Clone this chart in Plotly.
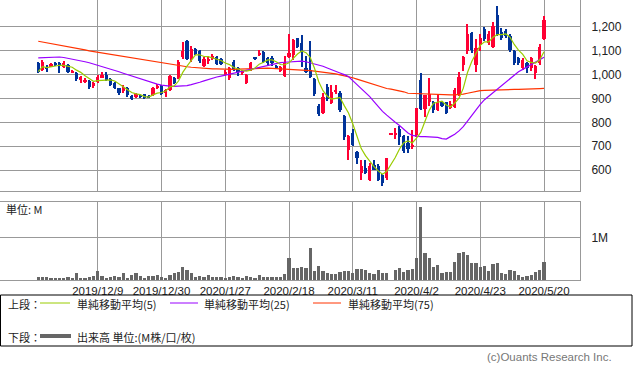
import pandas as pd
import plotly.graph_objects as go

# ---------------- data ----------------
holidays = ["2019-12-31", "2020-01-01", "2020-01-02", "2020-01-03", "2020-01-13",
            "2020-02-11", "2020-02-24", "2020-03-20", "2020-04-29", "2020-05-04",
            "2020-05-05", "2020-05-06"]
_days = [d for d in pd.bdate_range("2019-11-19", "2020-05-20")
         if d.strftime("%Y-%m-%d") not in holidays]
dates = [f"{d.year}/{d.month}/{d.day}" for d in _days]

tick_dates = ["2019/12/9", "2019/12/30", "2020/1/27", "2020/2/18",
              "2020/3/11", "2020/4/2", "2020/4/23", "2020/5/20"]

open_ = [1048, 1020, 1033, 1036, 1050, 1048, 1033, 1040, 1011, 1008,
         978, 971, 975, 952, 970, 987, 998, 980, 965, 943,
         930, 943, 912, 907, 915, 918, 910, 915, 943, 952,
         922, 935, 985, 985, 1073, 1141, 1064, 1106, 1100, 1036,
         1058, 1067, 1073, 1064, 999, 985, 1054, 1027, 1008, 966,
         1020, 1070, 1082, 1096, 1070, 1070, 1035, 1017, 994, 1075,
         1082, 1152, 1131, 1027, 1020, 980, 868, 838, 947, 880,
         929, 924, 827, 684, 754, 677, 589, 608, 558, 621,
         617, 579, 565, 750, 747, 771, 741, 713, 695, 747,
         978, 855, 887, 887, 851, 887, 884, 859, 866, 915,
         1041, 1101, 1175, 1041, 1124, 1190, 1131, 1117, 1250, 1180,
         1185, 1162, 1100, 1070, 1027, 1050, 1027, 1008, 1048, 1148]
high = [1054, 1062, 1040, 1050, 1055, 1052, 1058, 1045, 1020, 1010,
        995, 985, 978, 970, 1000, 1010, 1010, 985, 968, 946,
        955, 948, 915, 922, 918, 920, 915, 950, 960, 955,
        940, 1000, 990, 1060, 1138, 1145, 1120, 1110, 1105, 1075,
        1080, 1085, 1078, 1068, 1020, 1032, 1060, 1030, 1020, 1002,
        1055, 1075, 1105, 1100, 1075, 1080, 1040, 1038, 1080, 1170,
        1150, 1155, 1166, 1080, 1140, 985, 875, 925, 960, 957,
        955, 930, 830, 745, 770, 680, 642, 642, 630, 640,
        625, 582, 650, 750, 776, 784, 745, 741, 766, 860,
        1008, 912, 985, 890, 920, 890, 887, 890, 945, 1010,
        1080, 1213, 1178, 1150, 1170, 1200, 1185, 1220, 1288, 1195,
        1190, 1170, 1105, 1075, 1070, 1055, 1075, 1040, 1130, 1245]
low = [1006, 1015, 1010, 1030, 1035, 1008, 1028, 1005, 1005, 975,
       963, 965, 940, 945, 965, 985, 972, 952, 940, 915,
       925, 908, 895, 903, 900, 897, 900, 912, 940, 915,
       908, 930, 960, 980, 1065, 1060, 1055, 1082, 1050, 1030,
       1045, 1060, 1040, 1040, 995, 978, 1015, 995, 1000, 962,
       1015, 1062, 1078, 1050, 1040, 1035, 1022, 1012, 990, 1070,
       1060, 1110, 1033, 1005, 985, 912, 825, 835, 890, 875,
       920, 845, 725, 642, 700, 625, 558, 585, 555, 598,
       555, 533, 560, 750, 729, 706, 672, 671, 690, 740,
       850, 824, 870, 840, 848, 865, 835, 855, 862, 912,
       1015, 1085, 1090, 1010, 1100, 1140, 1125, 1110, 1160, 1145,
       1155, 1095, 1040, 1040, 1020, 1008, 1015, 983, 1040, 1145]
close = [1013, 1054, 1022, 1043, 1042, 1036, 1050, 1011, 1017, 980,
         990, 978, 947, 966, 992, 998, 977, 957, 943, 922,
         946, 915, 898, 917, 905, 904, 905, 945, 952, 919,
         935, 994, 964, 1054, 1100, 1066, 1106, 1087, 1057, 1064,
         1062, 1080, 1045, 1045, 1013, 1027, 1020, 1013, 1013, 999,
         1048, 1068, 1092, 1054, 1048, 1048, 1030, 1033, 1048, 1089,
         1145, 1117, 1096, 1013, 989, 919, 835, 908, 897, 929,
         935, 852, 737, 741, 705, 649, 617, 589, 617, 600,
         558, 547, 650, 750, 756, 737, 681, 688, 705, 860,
         855, 915, 919, 852, 887, 869, 838, 875, 935, 989,
         1075, 1171, 1104, 1113, 1152, 1148, 1169, 1204, 1166, 1152,
         1162, 1103, 1050, 1048, 1062, 1027, 1069, 1036, 1117, 1229]

ma25 = [1070, 1071, 1072, 1073, 1074, 1074, 1072, 1069, 1066, 1062,
        1058, 1054, 1050, 1045, 1040, 1035, 1030, 1024, 1018, 1012,
        1006, 1000, 994, 988, 982, 976, 970, 965, 960, 956,
        953, 952, 951, 951, 952, 954, 958, 962, 968, 974,
        980, 985, 990, 994, 998, 1003, 1007, 1011, 1015, 1019,
        1022, 1026, 1030, 1035, 1040, 1045, 1048, 1050, 1052, 1053,
        1055, 1056, 1057, 1054, 1050, 1045, 1040, 1035, 1028, 1020,
        1014, 1007, 1000, 992, 975, 958, 942, 927, 908, 887,
        866, 846, 830, 814, 800, 787, 772, 755, 745, 742,
        740, 740, 740, 739, 737, 732, 730, 740, 750, 764,
        782, 805, 830, 855, 875, 895, 910, 925, 940, 955,
        970, 985, 1000, 1012, 1022, 1032, 1042, 1052, 1062, 1073]
ma75 = [1140, 1137, 1134, 1130, 1127, 1124, 1120, 1117, 1114, 1110,
        1107, 1104, 1100, 1097, 1094, 1091, 1088, 1086, 1083, 1080,
        1078, 1075, 1072, 1068, 1065, 1062, 1058, 1055, 1052, 1048,
        1046, 1043, 1040, 1038, 1035, 1033, 1031, 1029, 1027, 1026,
        1025, 1024, 1024, 1023, 1023, 1022, 1022, 1023, 1024, 1025,
        1026, 1026, 1027, 1027, 1027, 1026, 1025, 1024, 1023, 1022,
        1022, 1022, 1022, 1020, 1017, 1015, 1013, 1011, 1008, 1006,
        1003, 999, 996, 992, 987, 981, 975, 970, 964, 958,
        951, 945, 942, 939, 936, 933, 928, 922, 921, 921,
        920, 920, 919, 919, 918, 917, 916, 915, 915, 916,
        918, 922, 926, 930, 933, 934, 935, 936, 936, 937,
        937, 937, 938, 938, 938, 939, 939, 940, 941, 942]

volume_m = [0.06, 0.06, 0.06, 0.05, 0.03, 0.055, 0.055, 0.06, 0.03, 0.165,
            0.05, 0.03, 0.06, 0.09, 0.21, 0.09, 0.05, 0.07, 0.09, 0.06,
            0.16, 0.055, 0.12, 0.16, 0.09, 0.055, 0.09, 0.10, 0.11, 0.06,
            0.055, 0.11, 0.16, 0.20, 0.30, 0.24, 0.165, 0.08, 0.09, 0.07,
            0.12, 0.06, 0.06, 0.07, 0.055, 0.07, 0.09, 0.06, 0.055, 0.09,
            0.06, 0.055, 0.12, 0.07, 0.06, 0.07, 0.06, 0.06, 0.14, 0.52,
            0.28, 0.28, 0.31, 0.28, 0.75, 0.21, 0.33, 0.21, 0.16, 0.14,
            0.14, 0.19, 0.21, 0.21, 0.16, 0.26, 0.25, 0.24, 0.16, 0.14,
            0.23, 0.16, 0.16, 0.0, 0.24, 0.28, 0.18, 0.24, 0.26, 0.52,
            1.73, 0.65, 0.52, 0.31, 0.35, 0.16, 0.19, 0.19, 0.43, 0.65,
            0.66, 0.59, 0.40, 0.40, 0.31, 0.33, 0.21, 0.39, 0.40, 0.17,
            0.14, 0.24, 0.22, 0.13, 0.08, 0.09, 0.12, 0.19, 0.24, 0.43]

price_ticks = [600, 700, 800, 900, 1000, 1100, 1200]
price_labels = ["600", "700", "800", "900", "1,000", "1,100", "1,200"]

# ---------------- styling ----------------
W, H = 633, 375
RED, BLUE = "#ff0033", "#003399"
C5, C25, C75 = "#99cc00", "#9900ff", "#ff3300"
GRID = "#999999"
VOLC = "#666666"
JP = "Noto Sans CJK JP"
NARROW = "Liberation Sans Narrow, Arial Narrow, sans-serif"


def px(x):
    return x / W


def py(y):
    return 1 - y / H


ma5 = pd.Series(close).rolling(5, min_periods=1).mean().tolist()
colors = [RED if c >= o else BLUE for o, c in zip(open_, close)]
body_base = [min(o, c) for o, c in zip(open_, close)]
body_h = [max(abs(c - o), 3) for o, c in zip(open_, close)]
wick_h = [max(h - l, 3) for h, l in zip(high, low)]

fig = go.Figure()
fig.add_trace(go.Bar(x=dates, y=wick_h, base=low, width=0.24,
                     marker=dict(color=colors, line=dict(width=0)),
                     xaxis="x", yaxis="y", showlegend=False))
fig.add_trace(go.Bar(x=dates, y=body_h, base=body_base, width=0.72,
                     marker=dict(color=colors, line=dict(width=0)),
                     xaxis="x", yaxis="y", showlegend=False))
fig.add_trace(go.Scatter(x=dates, y=ma75, mode="lines", line=dict(color=C75, width=1.2),
                         xaxis="x", yaxis="y", showlegend=False))
fig.add_trace(go.Scatter(x=dates, y=ma25, mode="lines", line=dict(color=C25, width=1.2),
                         xaxis="x", yaxis="y", showlegend=False))
fig.add_trace(go.Scatter(x=dates, y=ma5, mode="lines", line=dict(color=C5, width=1.2),
                         xaxis="x", yaxis="y", showlegend=False))
fig.add_trace(go.Bar(x=dates, y=volume_m, width=0.72,
                     marker=dict(color=VOLC, line=dict(width=0)),
                     xaxis="x2", yaxis="y2", showlegend=False))

xrange = [-9.0, 127.47]
xcommon = dict(type="category", categoryorder="array", categoryarray=dates,
               range=xrange, domain=[0, px(580)], tickmode="array", tickvals=tick_dates,
               showgrid=True, gridcolor=GRID, gridwidth=1, showline=True, mirror=True,
               linecolor=GRID, linewidth=1, ticks="", zeroline=False, fixedrange=True)

fig.update_layout(
    width=W, height=H, margin=dict(l=0, r=0, t=0, b=0),
    paper_bgcolor="white", plot_bgcolor="white", barmode="overlay", bargap=0,
    hovermode=False,
    xaxis=dict(**xcommon, anchor="y", showticklabels=False),
    xaxis2=dict(**xcommon, anchor="y2", matches="x", showticklabels=True,
                ticklabelstandoff=0,
                tickfont=dict(family=NARROW, size=11.5, color="#222222")),
    yaxis=dict(domain=[py(191), 1], range=[512, 1313], side="right",
               tickmode="array", tickvals=price_ticks, ticktext=price_labels,
               showgrid=True, gridcolor=GRID, gridwidth=1, zeroline=False,
               showline=True, mirror=True, linecolor=GRID, ticks="",
               ticklabelstandoff=8,
               tickfont=dict(family="Liberation Sans, Arial, sans-serif", size=12, color="#222222"),
               anchor="x", fixedrange=True),
    yaxis2=dict(domain=[py(280), py(202)], range=[0, 1.844], side="right",
                tickmode="array", tickvals=[1], ticktext=["1M"],
                showgrid=True, gridcolor=GRID, gridwidth=1, zeroline=False,
                showline=True, mirror=True, linecolor=GRID, ticks="",
                ticklabelstandoff=8,
                tickfont=dict(family=NARROW, size=12, color="#222222"),
                anchor="x2", fixedrange=True),
)

ann = []


def text(x, y, s, size=11, color="#222222", family=JP, xanchor="left"):
    ann.append(dict(x=px(x), y=py(y), xref="paper", yref="paper", text=s,
                    showarrow=False, xanchor=xanchor, yanchor="middle",
                    font=dict(family=family, size=size, color=color)))


text(4, 209, "単位: M", size=11)
text(6, 304, "上段：", size=11)
text(75, 304, "単純移動平均(5)", size=11)
text(202, 304, "単純移動平均(25)", size=11)
text(346, 304, "単純移動平均(75)", size=11)
text(6, 337, "下段：", size=11)
text(75, 337, "出来高 単位:(M株/口/枚)", size=11)
text(614, 357, "(c)Ouants Research Inc.", size=11.5, color="#777777", family=NARROW, xanchor="right")

shapes = [
    dict(type="rect", xref="paper", yref="paper", x0=px(0.5), x1=px(632), y0=py(295), y1=py(346),
         line=dict(color="black", width=1)),
    dict(type="line", xref="paper", yref="paper", x0=px(40), x1=px(70), y0=py(303), y1=py(303),
         line=dict(color=C5, width=1)),
    dict(type="line", xref="paper", yref="paper", x0=px(170), x1=px(198), y0=py(303), y1=py(303),
         line=dict(color=C25, width=1)),
    dict(type="line", xref="paper", yref="paper", x0=px(313), x1=px(341), y0=py(303), y1=py(303),
         line=dict(color=C75, width=1)),
    dict(type="line", xref="paper", yref="paper", x0=px(40), x1=px(71), y0=py(336), y1=py(336),
         line=dict(color=VOLC, width=4)),
]
fig.update_layout(annotations=ann, shapes=shapes)

fig.write_html("out.html", config={"displayModeBar": False},
               post_script="document.body.style.margin='0';document.body.style.padding='0';")
